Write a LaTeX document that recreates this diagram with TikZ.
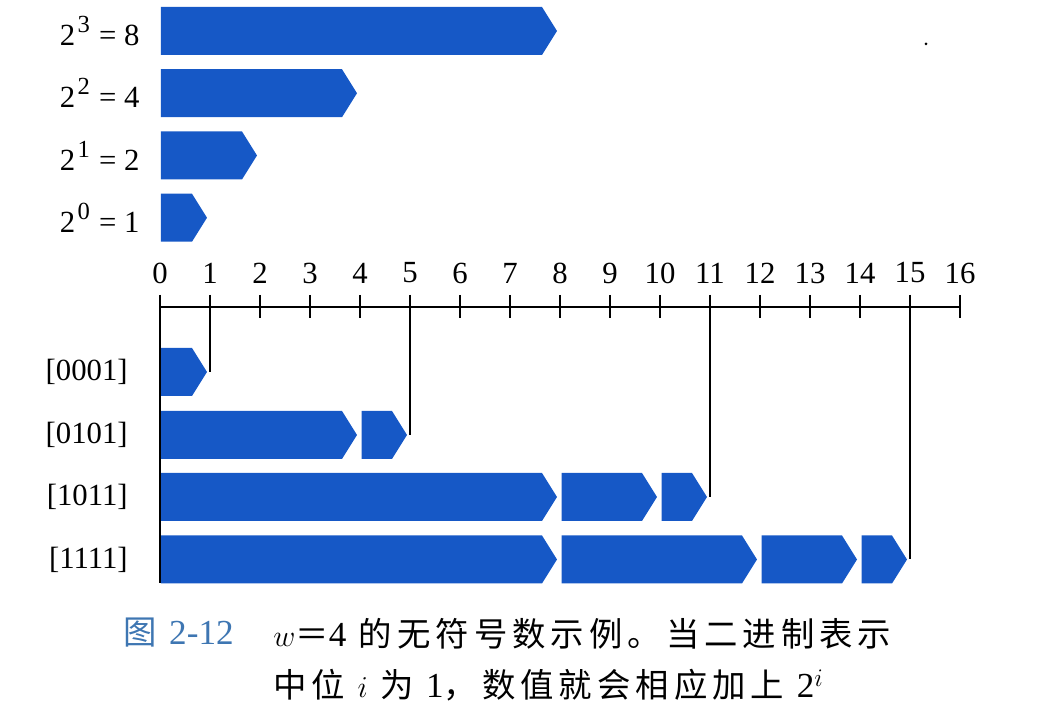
\documentclass[tikz,border=0pt]{standalone}
\usepackage{fontspec}
\setmainfont{Liberation Serif}
\newfontfamily\cjk[LetterSpace=15]{Noto Sans CJK SC}
\definecolor{barblue}{RGB}{22,88,198}
\definecolor{capblue}{RGB}{62,118,178}
\tikzset{
  bar/.style={fill=barblue},
  lbl/.style={font=\fontsize{17.5}{20}\selectfont, inner sep=0pt},
  rule/.style={line width=1.3pt},
  captext/.style={anchor=west, inner sep=0pt, font=\cjk\fontsize{19}{22}\selectfont},
}
% one block: start, end, centre y
\newcommand{\chev}[3]{%
  \fill[bar] (#1,#3-0.48) -- (#2-0.36,#3-0.48) -- (#2-0.06,#3)
    -- (#2-0.36,#3+0.48) -- (#1,#3+0.48) -- cycle;}
\newcommand{\pw}[1]{\kern0.08em\raisebox{0.42em}{\fontsize{14}{14}\selectfont #1}\kern0.05em\relax}
\newcommand{\capnum}[1]{{\rmfamily\fontsize{20}{22}\selectfont #1}}

\begin{document}
\begin{tikzpicture}
      \useasboundingbox (-3.2,-8.36) rectangle (17.6,6.14);

      % powers of two
      \foreach \e/\v/\y in {3/8/5.52, 2/4/4.275, 1/2/3.03, 0/1/1.785} {
        \chev{0.02}{\v}{\y}
        \node [lbl, anchor=east] (p\e) at (-0.4, \y) {2\pw{\e} = \v};
      }

      % number line
      \draw [rule] (0, 0) -- (16, 0);
      \foreach \k in {0,...,16} {
        \draw [rule] (\k, 0.24) coordinate (t\k) -- (\k, -0.22);
        \node [lbl] (n\k) at (\k, 0.68) {\k};
      }

      % words
      \chev{0.02}{1}{-1.30}
      \chev{0.02}{4}{-2.56} \chev{4.03}{5}{-2.56}
      \chev{0.02}{8}{-3.80} \chev{8.03}{10}{-3.80} \chev{10.03}{11}{-3.80}
      \chev{0.02}{8}{-5.05} \chev{8.03}{12}{-5.05} \chev{12.03}{14}{-5.05} \chev{14.03}{15}{-5.05}

      \node [lbl, anchor=east] (w0001) at (-0.64, -1.30) {[0001]};
      \node [lbl, anchor=east] (w0101) at (-0.64, -2.56) {[0101]};
      \node [lbl, anchor=east] (w1011) at (-0.64, -3.80) {[1011]};
      \node [lbl, anchor=east] (w1111) at (-0.64, -5.05) {[1111]};

      \coordinate (e0) at (0, -5.53);
      \coordinate (e1) at (1, -1.30);
      \coordinate (e5) at (5, -2.56);
      \coordinate (e11) at (11, -3.80);
      \coordinate (e15) at (15, -5.05);
      \foreach \k in {0, 1, 5, 11, 15}
        \draw [rule] (t\k) -- (e\k);

      \fill (15.32, 5.26) circle (0.03);

      % caption
      \node [captext, text=capblue] (fig) at (-0.74, -6.52) {图 \capnum{2-12}};
      \node [captext] (cap1) at (2.26, -6.54) {$w$＝\capnum{4} 的无符号数示例。当二进制表示};
      \node [captext] (cap2) at (2.26, -7.56) {中位 $i$ 为 \capnum{1}，数值就会相应加上 \capnum{2}$^i$};
\end{tikzpicture}
\end{document}
